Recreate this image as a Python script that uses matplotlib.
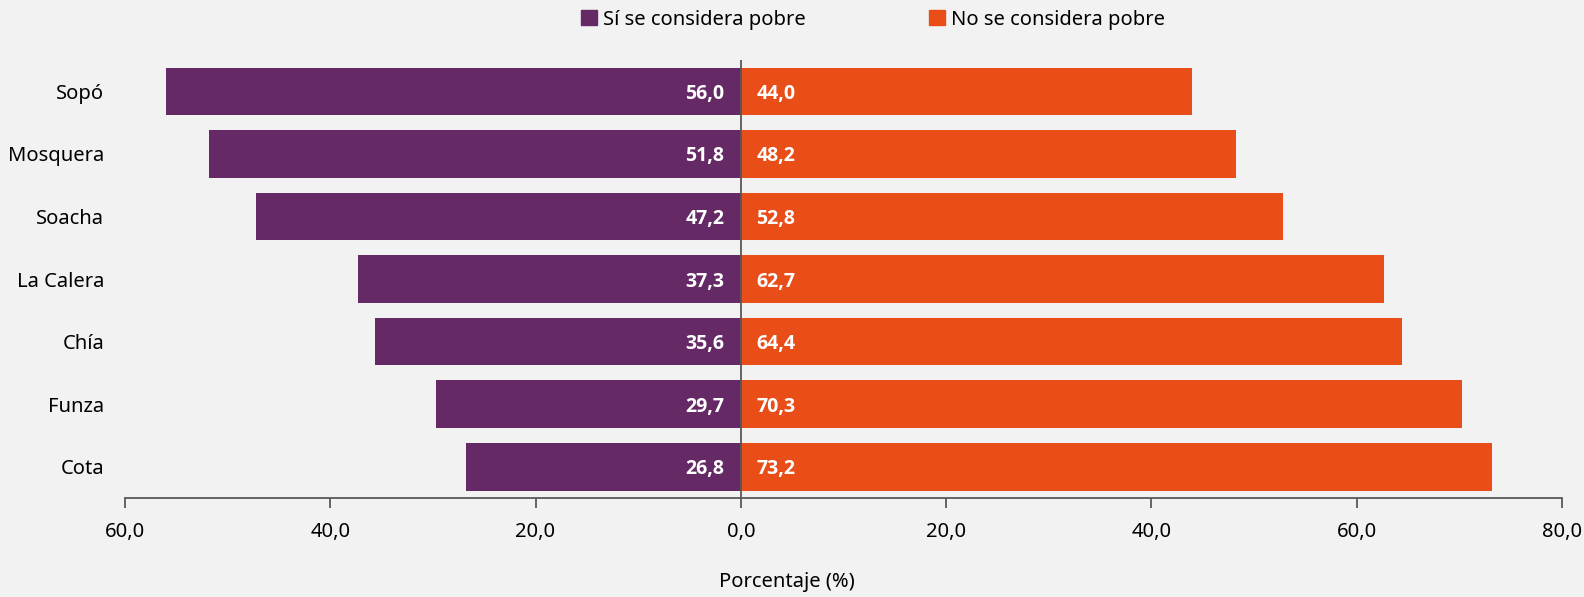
import matplotlib.pyplot as plt
import numpy as np
from matplotlib.patches import Patch

municipios = ["Sopó", "Mosquera", "Soacha", "La Calera", "Chía", "Funza", "Cota"]
si_pobre = [56.0, 51.8, 47.2, 37.3, 35.6, 29.7, 26.8]
no_pobre = [44.0, 48.2, 52.8, 62.7, 64.4, 70.3, 73.2]
xticks = [-60, -40, -20, 0, 20, 40, 60, 80]

purple = "#652966"
orange = "#E94E18"
bg = "#F2F2F2"

plt.rcParams['font.family'] = ['Noto Sans', 'DejaVu Sans']

fig = plt.figure(figsize=(15.84, 5.97), dpi=100, facecolor=bg)
ax = fig.add_axes([0.0789, 0.1658, 0.9072, 0.7337], facecolor=bg)

y = np.arange(len(municipios))[::-1]
ax.barh(y, [-v for v in si_pobre], height=0.76, color=purple)
ax.barh(y, no_pobre, height=0.76, color=orange)

for yi, s, n in zip(y, si_pobre, no_pobre):
    ax.text(-1.6, yi - 0.04, f"{s:.1f}".replace(".", ","), ha="right", va="center",
            color="white", fontweight="bold", fontsize=14, family=["Open Sans", "DejaVu Sans"])
    ax.text(1.5, yi - 0.04, f"{n:.1f}".replace(".", ","), ha="left", va="center",
            color="white", fontweight="bold", fontsize=14, family=["Open Sans", "DejaVu Sans"])

ax.axvline(0, color="#595959", lw=1.3, zorder=3)

ax.set_xlim(-60, 80)
ax.set_ylim(-0.5, len(municipios) - 0.5)
ax.set_xticks(xticks)
ax.set_xticklabels([f"{abs(t):.1f}".replace(".", ",") for t in xticks], fontsize=14.5)
ax.set_yticks(y)
ax.set_yticklabels(municipios, fontsize=14.5)
ax.tick_params(axis="y", length=0, pad=15)
ax.tick_params(axis="x", length=7, width=1.3, color="#595959", pad=10)

for side in ["top", "right", "left"]:
    ax.spines[side].set_visible(False)
ax.spines["bottom"].set_color("#595959")
ax.spines["bottom"].set_linewidth(1.3)

fig.text(0.497, 0.025, "Porcentaje (%)", ha="center", va="center", fontsize=14.5)

handles = [Patch(color=purple, label="Sí se considera pobre"),
           Patch(color=orange, label="No se considera pobre")]
fig.legend(handles=handles, loc="center", bbox_to_anchor=(0.551, 0.967), ncol=2,
           frameon=False, fontsize=14.5, handlelength=0.8, handleheight=0.8,
           handletextpad=0.3, columnspacing=6.1)

fig.savefig("out.png", dpi=100, facecolor=bg)
